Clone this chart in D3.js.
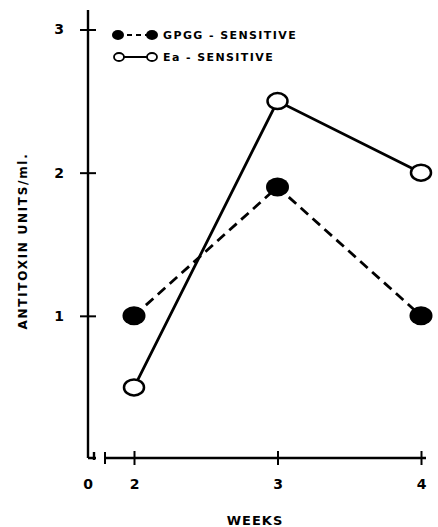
<!DOCTYPE html>
<html>
<head>
<meta charset="utf-8">
<script src="https://cdn.jsdelivr.net/npm/d3@7"></script>
<style>
  body { margin: 0; background: #fff; }
  text { font-family: "DejaVu Sans", sans-serif; font-weight: bold; fill: #000; }
</style>
</head>
<body>
<div id="chart"></div>
<script>
// data
var weeks = [2, 3, 4];
var gpggValues = [1.0, 1.9, 1.0];
var eaValues = [0.5, 2.5, 2.0];
var yTicks = [1, 2, 3];
var xTicks = [2, 3, 4];
var seriesNames = ["GPGG - SENSITIVE", "Ea - SENSITIVE"];

var width = 438, height = 527;

var svg = d3.select("#chart")
  .append("svg")
    .attr("width", width)
    .attr("height", height);

// scales
var x = d3.scaleLinear().domain([2, 4]).range([134, 421]);
var y = d3.scaleLinear().domain([0, 3]).range([459, 29.5]);

var axisX = 88, axisY = 458;

// y axis
var yAxis = svg.append("g")
  .attr("class", "yline")
  .attr("transform", "translate(" + axisX + ",0)")
  .call(d3.axisLeft(y).tickValues(yTicks).tickSize(8).tickPadding(16).tickFormat(d3.format("d")));
yAxis.select(".domain").remove();
yAxis.selectAll(".tick line").attr("x2", 8).attr("x1", -8).attr("stroke-width", 2);
yAxis.selectAll(".tick text").style("font-size", "14px");
svg.append("line")
  .attr("x1", axisX).attr("x2", axisX)
  .attr("y1", 10).attr("y2", axisY)
  .attr("stroke", "#000").attr("stroke-width", 2.4);

// broken x axis: stub at origin, gap, then main line
svg.append("path")
  .attr("d", "M" + axisX + "," + axisY + "H96M94," + (axisY - 6) + "V" + (axisY + 2))
  .attr("fill", "none").attr("stroke", "#000").attr("stroke-width", 2.4);
svg.append("line")
  .attr("x1", 105).attr("x2", 105)
  .attr("y1", axisY - 6).attr("y2", axisY + 6)
  .attr("stroke", "#000").attr("stroke-width", 2);

var xAxis = svg.append("g")
  .attr("class", "xline")
  .attr("transform", "translate(0," + axisY + ")")
  .call(d3.axisBottom(x).tickValues(xTicks).tickSize(7).tickPadding(14).tickFormat(d3.format("d")));
xAxis.select(".domain").remove();
xAxis.selectAll(".tick line").attr("y1", -7).attr("stroke-width", 2);
xAxis.selectAll(".tick text").style("font-size", "14px");
svg.append("line")
  .attr("x1", 105).attr("x2", 426)
  .attr("y1", axisY).attr("y2", axisY)
  .attr("stroke", "#000").attr("stroke-width", 2.4);

// "0" at origin
svg.append("text")
  .attr("x", axisX).attr("y", 489)
  .attr("text-anchor", "middle")
  .style("font-size", "14px")
  .text("0");

// axis titles
svg.append("text")
  .attr("x", 255).attr("y", 525)
  .attr("text-anchor", "middle")
  .style("font-size", "13px")
  .style("letter-spacing", "1px")
  .text("WEEKS");

svg.append("text")
  .attr("transform", "translate(27,241)rotate(-90)")
  .attr("text-anchor", "middle")
  .style("font-size", "12px")
  .style("letter-spacing", "1.7px")
  .text("ANTITOXIN  UNITS/ml.");

// lines
var line = d3.line()
  .x(function(d, i) { return x(weeks[i]); })
  .y(function(d) { return y(d); });

svg.append("path")
  .datum(gpggValues)
  .attr("d", line)
  .attr("fill", "none")
  .attr("stroke", "#000")
  .attr("stroke-width", 2.8)
  .attr("stroke-dasharray", "10,6");

svg.append("path")
  .datum(eaValues)
  .attr("d", line)
  .attr("fill", "none")
  .attr("stroke", "#000")
  .attr("stroke-width", 2.8);

// markers
svg.selectAll(".gpgg")
  .data(gpggValues)
  .enter().append("ellipse")
    .attr("cx", function(d, i) { return x(weeks[i]); })
    .attr("cy", function(d) { return y(d); })
    .attr("rx", 11.5).attr("ry", 9.5)
    .attr("fill", "#000");

svg.selectAll(".ea")
  .data(eaValues)
  .enter().append("ellipse")
    .attr("cx", function(d, i) { return x(weeks[i]); })
    .attr("cy", function(d) { return y(d); })
    .attr("rx", 10).attr("ry", 8)
    .attr("fill", "#fff")
    .attr("stroke", "#000")
    .attr("stroke-width", 2.5);

// legend
var legend = svg.append("g");
legend.append("line")
  .attr("x1", 118).attr("x2", 152).attr("y1", 35).attr("y2", 35)
  .attr("stroke", "#000").attr("stroke-width", 2).attr("stroke-dasharray", "5,4");
legend.selectAll(".lg1").data([118, 152]).enter().append("ellipse")
  .attr("cx", function(d) { return d; }).attr("cy", 35)
  .attr("rx", 6).attr("ry", 5).attr("fill", "#000");
legend.append("line")
  .attr("x1", 119).attr("x2", 152).attr("y1", 57).attr("y2", 57)
  .attr("stroke", "#000").attr("stroke-width", 2);
legend.selectAll(".lg2").data([119, 152]).enter().append("ellipse")
  .attr("cx", function(d) { return d; }).attr("cy", 57)
  .attr("rx", 5).attr("ry", 4).attr("fill", "#fff")
  .attr("stroke", "#000").attr("stroke-width", 1.8);
legend.selectAll(".lgtext").data(seriesNames).enter().append("text")
  .attr("x", 163)
  .attr("y", function(d, i) { return 39 + i * 22; })
  .style("font-size", "11px")
  .style("letter-spacing", "1.4px")
  .text(function(d) { return d; });
</script>
</body>
</html>
